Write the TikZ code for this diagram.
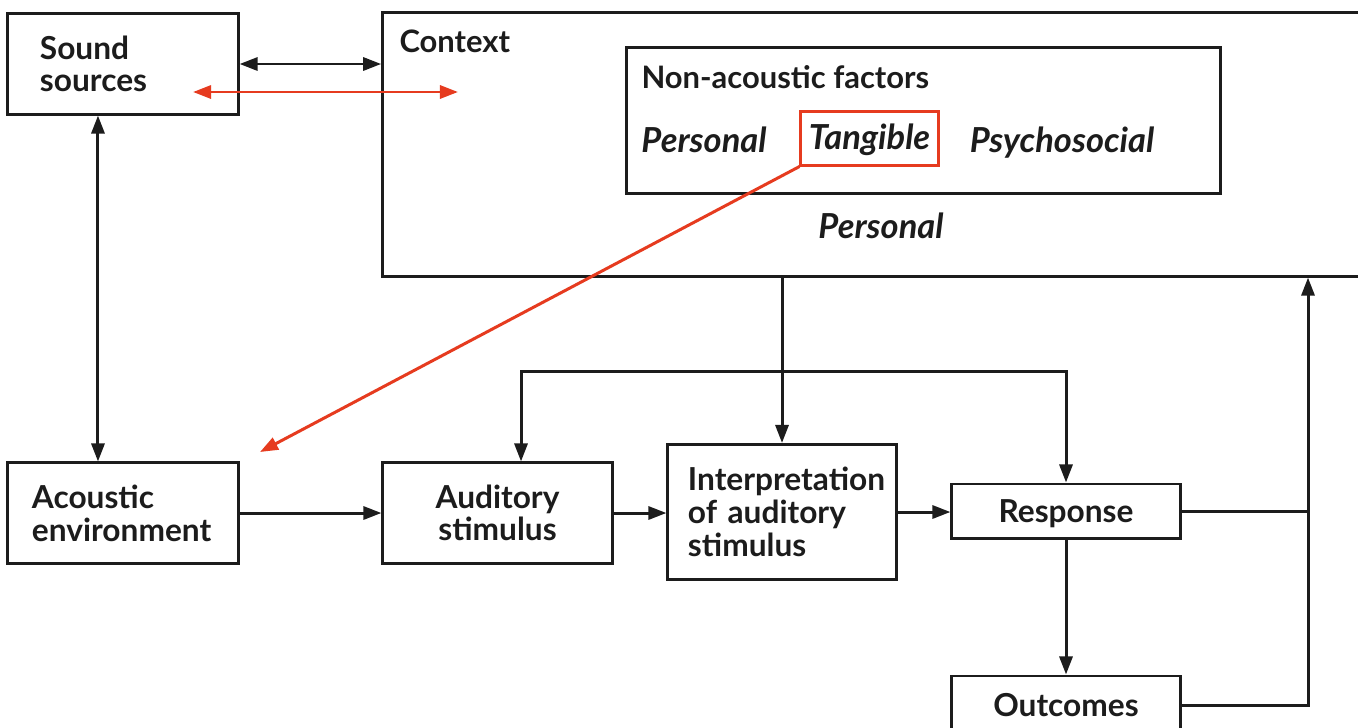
\documentclass[tikz,border=0pt]{standalone}
\usepackage{fontspec}
\setmainfont{Lato}
\usepackage{xcolor}
\usetikzlibrary{arrows.meta, positioning}
\definecolor{inkred}{HTML}{E63B1F}
\definecolor{inkblack}{HTML}{1C1C1C}

\begin{document}
\begin{tikzpicture}[x=0.01cm,y=-0.01cm,->,>={Triangle[length=1.8mm,width=1.3mm]},
  line width=0.85pt,draw=inkblack,text=inkblack,
  font={\fontsize{9}{9.3}\selectfont\bfseries},
  main node/.style={rectangle,draw=inkblack,inner sep=0pt,minimum height=1cm},
  title node/.style={inner sep=0pt,anchor=base west,font={\fontsize{8.8}{9}\selectfont\bfseries}},
  tag node/.style={inner sep=0pt,anchor=base,font={\fontsize{9.8}{10}\selectfont\bfseries\itshape}},
  red line/.style={draw=inkred,color=inkred}]
  \useasboundingbox (0,0) rectangle (1358,727);
  \fill[white] (0,0) rectangle (1358,727);
  \clip (0,0) rectangle (1358,727);

  \node[main node,minimum width=2.3cm,text width=1.66cm,align=left] (SRC) at (123,64) {Sound\\sources};
  \node[main node,minimum width=10.2cm,minimum height=2.63cm] (CTX) at (893,144.5) {};
  \node[title node] (CTXT) at (398,52) {Context};

  \node[main node,minimum width=5.93cm,minimum height=1.45cm] (NAF) at (923.5,120.5) {};
  \node[title node] (NAFT) at (640,88) {Non-acoustic factors};
  \node[tag node] (PERS) at (704,152) {Personal};
  \node[inner sep=0pt,draw=inkred,minimum width=1.37cm,minimum height=0.53cm] (TANG) at (869.5,138.5) {};
  \node[tag node] (TANGT) at (869.5,149) {Tangible};
  \node[tag node] (PSY) at (1062,152) {Psychosocial};
  \node[tag node] (PERS2) at (881,238) {Personal};

  \node[main node,minimum width=2.3cm,text width=1.82cm,align=left] (ACU) at (123,513) {Acoustic\\environment};
  \node[main node,minimum width=2.29cm,align=center] (AUD) at (497.5,513) {Auditory\\stimulus};
  \node[main node,minimum width=2.28cm,minimum height=1.35cm,text width=1.88cm,align=left] (INT) at (782,512) {Interpretation\\of auditory\\stimulus};
  \node[main node,minimum width=2.28cm,minimum height=0.54cm,text depth=0pt] (RES) at (1066,511) {Response};
  \node[main node,minimum width=2.28cm,minimum height=0.58cm,text depth=0pt] (OUT) at (1066,705) {Outcomes};

  \coordinate (REDL) at (193,92);
  \coordinate (REDR) at (458,92);
  \coordinate (REDEND) at (260,452);
  \coordinate (BRANCH) at (INT.north |- 0,371);
  \coordinate (FB) at (1308,512);

  \draw[<->] (SRC.east) -- (SRC.east -| CTX.west);
  \draw[<->] ([xshift=-0.25cm]SRC.south) -- ([xshift=-0.25cm]ACU.north);
  \draw[<->,red line] (REDL) -- (REDR);
  \draw[red line] (TANG.south west) -- (REDEND);

  \path
     (ACU) edge (AUD)
     (AUD.east) edge (AUD.east -| INT.west)
     (INT.east) edge (INT.east -| RES.west)
     (RES) edge (OUT)
     (INT.north |- CTX.south) edge (INT.north);
  \draw (BRANCH) -| ([xshift=0.235cm]AUD.north);
  \draw (BRANCH) -| (RES.north);
  \draw[-] (RES.east) -- (RES.east -| FB);
  \draw (OUT.east) -| (FB |- CTX.south);
\end{tikzpicture}
\end{document}
